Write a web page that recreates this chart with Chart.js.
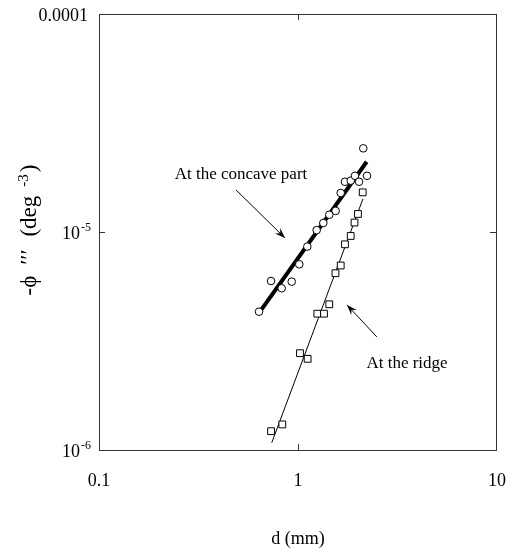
<!DOCTYPE html>
<html>
<head>
<meta charset="utf-8">
<script src="https://cdn.jsdelivr.net/npm/chart.js@4.4.0/dist/chart.umd.min.js"></script>
<style>
  body { margin: 0; background: #fff; }
  #grafico { display: block; }
</style>
</head>
<body>
<canvas id="grafico" width="508" height="552"></canvas>
<script>
// === DADOS === //
// parte côncava (círculos)
const concaveD   = [0.637, 0.732, 0.828, 0.930, 1.015, 1.114, 1.241, 1.340, 1.437, 1.546, 1.639, 1.722, 1.840, 1.933, 2.027, 2.222, 2.128];
const concavePhi = [4.31e-6, 5.96e-6, 5.52e-6, 5.92e-6, 7.11e-6, 8.57e-6, 1.02e-5, 1.10e-5, 1.20e-5, 1.25e-5, 1.51e-5, 1.70e-5, 1.72e-5, 1.81e-5, 1.70e-5, 1.81e-5, 2.42e-5];

// crista (quadrados)
const ridgeD   = [0.732, 0.834, 1.023, 1.118, 1.250, 1.351, 1.436, 1.543, 1.639, 1.722, 1.840, 1.923, 2.002, 2.114];
const ridgePhi = [1.22e-6, 1.31e-6, 2.78e-6, 2.62e-6, 4.22e-6, 4.22e-6, 4.66e-6, 6.47e-6, 7.02e-6, 8.78e-6, 9.59e-6, 1.105e-5, 1.21e-5, 1.52e-5];

// retas ajustadas
const concaveFitD   = [0.644, 2.214];
const concaveFitPhi = [4.31e-6, 2.10e-5];
const ridgeFitD     = [0.738, 2.121];
const ridgeFitPhi   = [1.08e-6, 1.42e-5];

// eixos
const xTicks = [0.1, 1, 10];
const xTickLabels = ['0.1', '1', '10'];
const yTicks = [1e-6, 1e-5, 1e-4];
const yTickLabels = [['10', '-6'], ['10', '-5'], ['0.0001', '']];

// anotações (em coordenadas dos dados)
const notaConcava = { text: 'At the concave part', x: 0.517, y: 1.83e-5, from: [0.488, 1.56e-5], to: [0.860, 9.39e-6] };
const notaCrista  = { text: 'At the ridge', x: 3.53, y: 2.48e-6, from: [2.49, 3.30e-6], to: [1.763, 4.63e-6] };

const FONTE = '"Liberation Serif", "DejaVu Serif", serif';

function pares(xs, ys) {
    return xs.map((x, i) => ({ x: x, y: ys[i] }));
}

function seta(ctx, x1, y1, x2, y2) {
    ctx.beginPath();
    ctx.moveTo(x1, y1);
    ctx.lineTo(x2, y2);
    ctx.stroke();
    const ang = Math.atan2(y2 - y1, x2 - x1);
    const len = 11, abre = 0.35;
    ctx.beginPath();
    ctx.moveTo(x2, y2);
    ctx.lineTo(x2 - len * Math.cos(ang - abre), y2 - len * Math.sin(ang - abre));
    ctx.lineTo(x2 - len * 0.6 * Math.cos(ang), y2 - len * 0.6 * Math.sin(ang));
    ctx.lineTo(x2 - len * Math.cos(ang + abre), y2 - len * Math.sin(ang + abre));
    ctx.closePath();
    ctx.fill();
}

// moldura, marcas, rótulos e anotações
const molduraPlugin = {
    id: 'moldura',
    afterDraw(chart) {
        const ctx = chart.ctx;
        const a = chart.chartArea;
        const sx = chart.scales.x, sy = chart.scales.y;
        ctx.save();

        // caixa
        ctx.strokeStyle = '#333';
        ctx.lineWidth = 1;
        ctx.strokeRect(a.left + 0.5, a.top + 0.5, a.right - a.left - 1, a.bottom - a.top);

        // marcas internas nas décadas
        ctx.beginPath();
        const xm = Math.round(sx.getPixelForValue(1)) + 0.5;
        ctx.moveTo(xm, a.bottom); ctx.lineTo(xm, a.bottom - 6);
        ctx.moveTo(xm, a.top); ctx.lineTo(xm, a.top + 6);
        const ym = Math.round(sy.getPixelForValue(1e-5)) + 0.5;
        ctx.moveTo(a.left, ym); ctx.lineTo(a.left + 6, ym);
        ctx.moveTo(a.right, ym); ctx.lineTo(a.right - 7, ym);
        ctx.stroke();

        ctx.fillStyle = '#000';

        // rótulos do eixo x
        ctx.font = '18px ' + FONTE;
        ctx.textAlign = 'center';
        ctx.textBaseline = 'alphabetic';
        xTicks.forEach((v, i) => {
            ctx.fillText(xTickLabels[i], sx.getPixelForValue(v), 486);
        });

        // rótulos do eixo y (com expoente)
        const direita = 91;
        yTicks.forEach((v, i) => {
            const y = sy.getPixelForValue(v);
            const base = yTickLabels[i][0], exp = yTickLabels[i][1];
            ctx.font = '18px ' + FONTE;
            const wb = ctx.measureText(base).width;
            ctx.font = '12px ' + FONTE;
            const we = exp ? ctx.measureText(exp).width + 1 : 0;
            const x0 = (exp ? direita : 88) - wb - we;
            ctx.textAlign = 'left';
            ctx.font = '18px ' + FONTE;
            ctx.fillText(base, x0, y + 7);
            if (exp) {
                ctx.font = '12px ' + FONTE;
                ctx.fillText(exp, x0 + wb + 1, y - 1);
            }
        });

        // título do eixo x
        ctx.font = '18px ' + FONTE;
        ctx.textAlign = 'center';
        ctx.fillText('d (mm)', (a.left + a.right) / 2, 544);

        // título do eixo y (girado, em pedaços)
        ctx.save();
        ctx.translate(36, 230);
        ctx.rotate(-Math.PI / 2);
        ctx.textAlign = 'left';
        const pedacos = [
            { t: '-\u03D5', f: 23, dy: 0, gap: 11 },
            { t: '\u2032\u2032\u2032', f: 23, dy: 0, gap: 13 },
            { t: '(deg', f: 23, dy: 0, gap: 9 },
            { t: '-3', f: 15, dy: -8, gap: 2 },
            { t: ')', f: 23, dy: 0, gap: 0 }
        ];
        let total = 0;
        pedacos.forEach(p => {
            ctx.font = p.f + 'px ' + FONTE;
            p.w = ctx.measureText(p.t).width;
            total += p.w + p.gap;
        });
        let px = -total / 2;
        pedacos.forEach(p => {
            ctx.font = p.f + 'px ' + FONTE;
            ctx.fillText(p.t, px, p.dy);
            px += p.w + p.gap;
        });
        ctx.restore();

        // anotações
        ctx.font = '17px ' + FONTE;
        ctx.textAlign = 'center';
        ctx.textBaseline = 'middle';
        ctx.lineWidth = 1;
        ctx.strokeStyle = '#000';
        [notaConcava, notaCrista].forEach(n => {
            ctx.fillText(n.text, sx.getPixelForValue(n.x), sy.getPixelForValue(n.y));
            seta(ctx,
                sx.getPixelForValue(n.from[0]), sy.getPixelForValue(n.from[1]),
                sx.getPixelForValue(n.to[0]), sy.getPixelForValue(n.to[1]));
        });

        ctx.restore();
    }
};

const ctxGrafico = document.getElementById('grafico');

new Chart(ctxGrafico, {
    type: 'scatter',
    data: {
        datasets: [
            {
                label: 'concave',
                data: pares(concaveD, concavePhi),
                pointStyle: 'circle',
                pointRadius: 3.8,
                borderWidth: 1,
                borderColor: '#000',
                backgroundColor: '#fff',
                order: 1
            },
            {
                label: 'ridge',
                data: pares(ridgeD, ridgePhi),
                pointStyle: 'rect',
                pointRadius: 4.8,
                borderWidth: 1,
                borderColor: '#000',
                backgroundColor: '#fff',
                order: 1
            },
            {
                label: 'concave fit',
                data: pares(concaveFitD, concaveFitPhi),
                showLine: true,
                pointRadius: 0,
                borderWidth: 4,
                borderColor: '#000',
                order: 2
            },
            {
                label: 'ridge fit',
                data: pares(ridgeFitD, ridgeFitPhi),
                showLine: true,
                pointRadius: 0,
                borderWidth: 1,
                borderColor: '#000',
                order: 2
            }
        ]
    },
    options: {
        responsive: false,
        animation: false,
        layout: { padding: { top: 14, right: 11, left: 0, bottom: 0 } },
        plugins: { legend: { display: false }, tooltip: { enabled: false } },
        scales: {
            x: {
                type: 'logarithmic',
                min: 0.1, max: 10,
                ticks: { display: false },
                grid: { display: false },
                border: { display: false },
                afterFit: s => { s.height = 102; }
            },
            y: {
                type: 'logarithmic',
                min: 1e-6, max: 1e-4,
                ticks: { display: false },
                grid: { display: false },
                border: { display: false },
                afterFit: s => { s.width = 99; }
            }
        }
    },
    plugins: [molduraPlugin]
});
</script>
</body>
</html>
